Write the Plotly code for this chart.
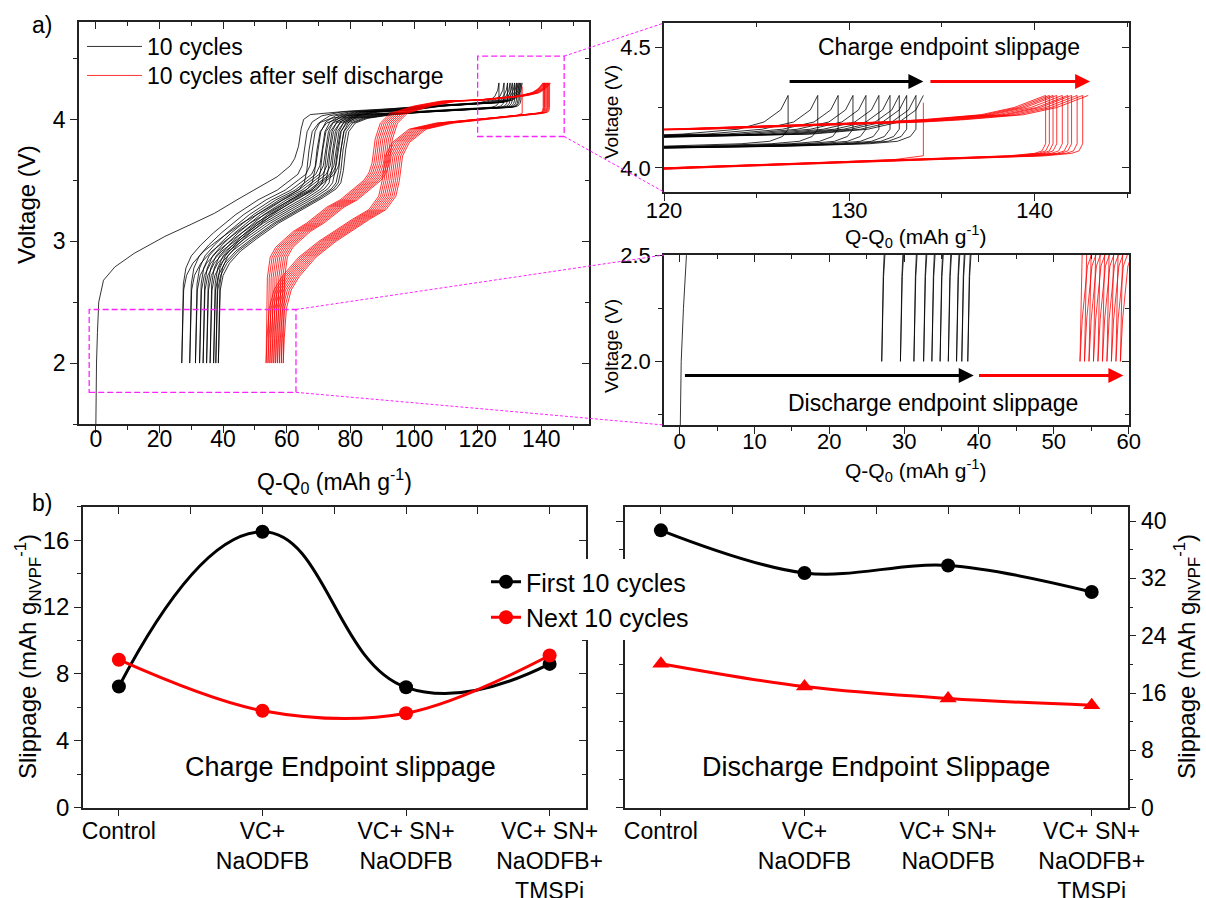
import plotly.graph_objects as go

W, H = 1206, 898
FONT = "Liberation Sans, Arial, sans-serif"

# ================= data: panel a) voltage curves =================
# first charge of the fresh cell (Q-Q0 in mAh/g, V)
FIRST_CHARGE_Q = [0, 0.05, 0.2, 0.5, 0.9, 2.4, 6, 12, 21.7, 30, 37.3, 45, 51.7, 57, 61.1, 62.5,
                  63.7, 64.5, 65.3, 67.4, 80, 100, 115, 121, 124, 125.4, 126.3, 126.7]
FIRST_CHARGE_V = [1.5, 1.75, 2.0, 2.25, 2.5, 2.68, 2.79, 2.9, 3.04, 3.14, 3.23, 3.35, 3.45, 3.53, 3.62, 3.68,
                  3.78, 3.92, 4.0, 4.04, 4.07, 4.1, 4.12, 4.14, 4.16, 4.19, 4.24, 4.3]

# endpoints
BLACK_CHARGE_END = [126.7, 128.3, 129.4, 130.2, 130.9, 131.6, 132.2, 132.7, 133.1, 133.6, 134.0]
BLACK_DISCHARGE_END = [27.0, 29.5, 31.3, 32.6, 33.7, 34.8, 35.9, 37.0, 37.7, 38.5]
RED_CHARGE_END = [140.6, 140.8, 141.0, 141.2, 141.5, 141.8, 142.0, 142.3, 142.6, 142.9]
RED_DISCHARGE_END = [53.5, 54.1, 54.7, 55.3, 55.9, 56.5, 57.1, 57.7, 58.3, 58.9]
SELF_DISCHARGE_Q = [134.0, 134.0]
SELF_DISCHARGE_V = [4.05, 4.27]

# curve shapes: capacity offset from the start / end anchor, voltage
BC_LOW_DQ = [0, 0.2, 0.5, 1.3, 3, 6, 10, 17, 24, 30, 34, 36.5, 37.8, 38.6, 39.4, 41, 44, 50, 62]
BC_LOW_V = [2.0, 2.4, 2.65, 2.78, 2.88, 2.97, 3.07, 3.22, 3.34, 3.42, 3.5, 3.55, 3.62, 3.76, 3.9, 3.98, 4.03, 4.06, 4.08]
BC_HIGH_DQ = [-25, -12, -6, -3, -1.3, -0.4, 0]
BC_HIGH_V = [4.11, 4.13, 4.14, 4.16, 4.19, 4.24, 4.3]

BD_LOW_DQ = [0, 0.25, 0.6, 1.5, 3.5, 7, 12, 19, 27, 33, 37, 38.5, 39.3, 40, 41, 43, 47, 55]
BD_LOW_V = [2.0, 2.4, 2.6, 2.72, 2.82, 2.92, 3.02, 3.15, 3.27, 3.36, 3.43, 3.48, 3.58, 3.75, 3.9, 3.97, 4.01, 4.04]
BD_HIGH_DQ = [-30, -15, -6.7, -2.5, -1, -0.3, 0, 0]
BD_HIGH_V = [4.06, 4.08, 4.09, 4.1, 4.11, 4.13, 4.16, 4.3]

RC_LOW_DQ = [0, 0.2, 0.4, 1.3, 3, 5.5, 8.5, 12.8, 19.1, 23.3, 27, 30.7, 32.3, 33.3, 34.3, 35.9, 39, 46.4, 54.8]
RC_LOW_V = [2.0, 2.4, 2.7, 2.87, 2.95, 3.01, 3.08, 3.15, 3.28, 3.34, 3.42, 3.5, 3.56, 3.64, 3.84, 3.97, 4.05, 4.11, 4.15]
RC_HIGH_DQ = [-20.6, -8.9, -6.6, -3.5, -1.7, 0]
RC_HIGH_V = [4.16, 4.19, 4.2, 4.22, 4.25, 4.3]

RD_LOW_DQ = [0, 0.3, 1, 2.5, 5, 10.3, 16.6, 27.1, 32.3, 35.4, 36.5, 37.5, 39.6, 44.9, 53.3]
RD_LOW_V = [2.0, 2.2, 2.45, 2.6, 2.71, 2.87, 3.0, 3.18, 3.26, 3.37, 3.5, 3.7, 3.81, 3.92, 3.97]
RD_HIGH_DQ = [-20.6, -9, -2, -0.6, -0.2, 0, 0]
RD_HIGH_V = [4.0, 4.03, 4.05, 4.06, 4.07, 4.1, 4.3]
# first discharge after the self-discharge rest (starts from the relaxed voltage)
RD0_HIGH_DQ = [-14, -6, -1.5, 0]
RD0_HIGH_V = [4.0, 4.02, 4.035, 4.05]

# ================= data: panel b) slippage =================
CATEGORIES = ["Control", "VC+<br>NaODFB", "VC+ SN+<br>NaODFB", "VC+ SN+<br>NaODFB+<br>TMSPi"]
CHARGE_FIRST10 = [7.25, 16.5, 7.2, 8.6]
CHARGE_NEXT10 = [8.85, 5.8, 5.65, 9.1]
DISCHARGE_FIRST10 = [38.7, 32.75, 33.8, 30.1]
DISCHARGE_NEXT10 = [20.1, 16.9, 15.25, 14.3]

# ================= build curves =================
def curve(start, end, low_dq, low_v, high_dq, high_v):
    q = [start + d for d in low_dq] + [end + d for d in high_dq]
    v = list(low_v) + list(high_v)
    return q, v

black = [(FIRST_CHARGE_Q, FIRST_CHARGE_V)]
for s, e in zip(BLACK_DISCHARGE_END, BLACK_CHARGE_END[1:]):
    black.append(curve(s, e, BC_LOW_DQ, BC_LOW_V, BC_HIGH_DQ, BC_HIGH_V))
for c, d in zip(BLACK_CHARGE_END[:-1], BLACK_DISCHARGE_END):
    black.append(curve(d, c, BD_LOW_DQ, BD_LOW_V, BD_HIGH_DQ, BD_HIGH_V))

red = []
red_dis_start = [SELF_DISCHARGE_Q[0]] + RED_CHARGE_END[:-1]
for i, (c, d) in enumerate(zip(red_dis_start, RED_DISCHARGE_END)):
    if i == 0:
        q, v = curve(d, c, RD_LOW_DQ, RD_LOW_V, RD0_HIGH_DQ, RD0_HIGH_V)
        red.append((q + SELF_DISCHARGE_Q, v + SELF_DISCHARGE_V))
    else:
        red.append(curve(d, c, RD_LOW_DQ, RD_LOW_V, RD_HIGH_DQ, RD_HIGH_V))
for s, e in zip(RED_DISCHARGE_END, RED_CHARGE_END):
    red.append(curve(s, e, RC_LOW_DQ, RC_LOW_V, RC_HIGH_DQ, RC_HIGH_V))


def merge(segs):
    xs, ys = [], []
    for q, v in segs:
        xs += list(q) + [None]
        ys += list(v) + [None]
    return xs, ys

BX, BY = merge(black)
RX, RY = merge(red)

# ================= panels (pixel boxes) =================
PANELS = {
    1: dict(px=(79, 589), py=(22, 424), xr=[-5.3, 155], yr=[1.5, 4.8], xd=20, xm=10, yd=1, ym=0.5,
            xfs=23, yfs=23, yfmt="", xstand=-13),
    2: dict(px=(664, 1129), py=(23, 192), xr=[120, 145.1], yr=[3.9, 4.6], xd=10, xm=5, yd=0.5, ym=0.25,
            xfs=22, yfs=22, yfmt=".1f", xstand=-9),
    3: dict(px=(664, 1129), py=(255, 425), xr=[-2.1, 60.05], yr=[1.7, 2.502], xd=10, xm=5, yd=0.5, ym=0.25,
            xfs=22, yfs=22, yfmt=".1f", xstand=-11),
    4: dict(px=(83, 585.5), py=(506.7, 807.7), xr=[-0.25, 3.25], yr=[0, 18], xd=None, xm=None, yd=4, ym=2,
            xfs=23, yfs=24, yfmt="", xstand=-5),
    5: dict(px=(625, 1127.6), py=(506.7, 807.7), xr=[-0.25, 3.25], yr=[0, 42], xd=None, xm=None, yd=8, ym=4,
            xfs=23, yfs=23, yfmt="", xstand=-5),
}

def xdom(p):
    return [PANELS[p]["px"][0] / W, PANELS[p]["px"][1] / W]

def ydom(p):
    return [1 - PANELS[p]["py"][1] / H, 1 - PANELS[p]["py"][0] / H]

def xname(i):
    return "xaxis" if i == 1 else f"xaxis{i}"

def yname(i):
    return "yaxis" if i == 1 else f"yaxis{i}"

def xref(i):
    return "x" if i == 1 else f"x{i}"

def yref(i):
    return "y" if i == 1 else f"y{i}"

LINEC = "#222"
layout_axes = {}
X_IDX = list(range(len(CATEGORIES)))
for i, P in PANELS.items():
    cat = P["xd"] is None
    xa = dict(domain=xdom(i), anchor=yref(i), range=P["xr"], showline=True, linecolor=LINEC, linewidth=1.5,
              mirror=True, showgrid=False, zeroline=False, ticks="outside", ticklen=7, tickwidth=1.3,
              tickcolor=LINEC, tickfont=dict(size=P["xfs"], color="black", family=FONT), automargin=False,
              ticklabelstandoff=P["xstand"])
    if cat:
        xa.update(tickmode="array", tickvals=X_IDX, ticktext=CATEGORIES)
    else:
        xa.update(tick0=0, dtick=P["xd"],
                  minor=dict(dtick=P["xm"], tick0=0, ticks="outside", ticklen=4, tickwidth=1.3, tickcolor=LINEC))
    ya = dict(domain=ydom(i), anchor=xref(i), range=P["yr"], showline=True, linecolor=LINEC, linewidth=1.5,
              mirror=True, showgrid=False, zeroline=False, ticks="outside", ticklen=7, tickwidth=1.3,
              tickcolor=LINEC, tickfont=dict(size=P["yfs"], color="black", family=FONT), automargin=False,
              tick0=0, dtick=P["yd"], tickformat=P["yfmt"],
              minor=dict(dtick=P["ym"], tick0=0, ticks="outside", ticklen=4, tickwidth=1.3, tickcolor=LINEC))
    if i == 5:
        ya.update(side="right", mirror="ticks")
    layout_axes[xname(i)] = xa
    layout_axes[yname(i)] = ya
    # top mirror ticks (inside)
    xo = dict(overlaying=xref(i), anchor=yref(i), side="top", range=P["xr"], showticklabels=False,
              showline=False, showgrid=False, zeroline=False, ticks="inside", ticklen=7, tickwidth=1.3,
              tickcolor=LINEC, automargin=False)
    if cat:
        xo.update(tickmode="array", tickvals=X_IDX,
                  minor=dict(tickvals=[k + 0.5 for k in X_IDX[:-1]], ticks="inside", ticklen=7,
                             tickwidth=1.3, tickcolor=LINEC))
    else:
        xo.update(tick0=0, dtick=P["xd"],
                  minor=dict(dtick=P["xm"], tick0=0, ticks="inside", ticklen=4, tickwidth=1.3, tickcolor=LINEC))
    layout_axes[xname(5 + i)] = xo
    if i != 5:
        yo = dict(overlaying=yref(i), anchor=xref(i), side="right", range=P["yr"], showticklabels=False,
                  showline=False, showgrid=False, zeroline=False, ticks="inside", ticklen=7, tickwidth=1.3,
                  tickcolor=LINEC, tick0=0, dtick=P["yd"], automargin=False,
                  minor=dict(dtick=P["ym"], tick0=0, ticks="inside", ticklen=4, tickwidth=1.3, tickcolor=LINEC))
        layout_axes[yname(5 + i)] = yo

fig = go.Figure()

# ---- voltage curves in the main panel and both insets ----
for i in (1, 2, 3):
    fig.add_trace(go.Scatter(x=BX, y=BY, mode="lines", line=dict(color="black", width=0.8),
                             name="10 cycles", showlegend=(i == 1), legend="legend",
                             xaxis=xref(i), yaxis=yref(i), hoverinfo="skip", connectgaps=False))
for i in (1, 2, 3):
    fig.add_trace(go.Scatter(x=RX, y=RY, mode="lines", line=dict(color="red", width=0.8),
                             name="10 cycles after self discharge", showlegend=(i == 1), legend="legend3",
                             xaxis=xref(i), yaxis=yref(i), hoverinfo="skip", connectgaps=False))

# ---- slippage panels ----
fig.add_trace(go.Scatter(x=X_IDX, y=CHARGE_FIRST10, mode="lines+markers", name="First 10 cycles",
                         line=dict(color="black", width=3, shape="spline", smoothing=1.3),
                         marker=dict(symbol="circle", size=14, color="black"),
                         legend="legend2", xaxis="x4", yaxis="y4"))
fig.add_trace(go.Scatter(x=X_IDX, y=CHARGE_NEXT10, mode="lines+markers", name="Next 10 cycles",
                         line=dict(color="red", width=3, shape="spline", smoothing=1.0),
                         marker=dict(symbol="circle", size=14, color="red"),
                         legend="legend2", xaxis="x4", yaxis="y4"))
fig.add_trace(go.Scatter(x=X_IDX, y=DISCHARGE_FIRST10, mode="lines+markers", showlegend=False,
                         line=dict(color="black", width=3, shape="spline", smoothing=1.0),
                         marker=dict(symbol="circle", size=14, color="black"),
                         xaxis="x5", yaxis="y5"))
fig.add_trace(go.Scatter(x=X_IDX, y=DISCHARGE_NEXT10, mode="lines+markers", showlegend=False,
                         line=dict(color="red", width=3, shape="spline", smoothing=1.0),
                         marker=dict(symbol="triangle-up", size=15, color="red"),
                         xaxis="x5", yaxis="y5"))

# dummy traces so the mirror-tick overlay axes are drawn
for i in PANELS:
    fig.add_trace(go.Scatter(x=[None], y=[None], xaxis=xref(5 + i), yaxis=yref(i), showlegend=False,
                             hoverinfo="skip"))
    if i != 5:
        fig.add_trace(go.Scatter(x=[None], y=[None], xaxis=xref(i), yaxis=yref(5 + i), showlegend=False,
                                 hoverinfo="skip"))

# ---- shapes: zoom boxes and connectors ----
MAG = "#ff22ff"
ZOOM_BOX_CHARGE = dict(x0=120, x1=147.2, y0=3.86, y1=4.52)
ZOOM_BOX_DISCH = dict(x0=-2.1, x1=62.9, y0=1.76, y1=2.44)


def to_px(p, xv):
    d = xdom(p); r = PANELS[p]["xr"]
    return d[0] + (xv - r[0]) / (r[1] - r[0]) * (d[1] - d[0])


def to_py(p, yv):
    d = ydom(p); r = PANELS[p]["yr"]
    return d[0] + (yv - r[0]) / (r[1] - r[0]) * (d[1] - d[0])

shapes = []
for box in (ZOOM_BOX_CHARGE, ZOOM_BOX_DISCH):
    shapes.append(dict(type="rect", xref="x", yref="y", line=dict(color=MAG, width=1.3, dash="6px,3px"), **box))
for box, p in ((ZOOM_BOX_CHARGE, 2), (ZOOM_BOX_DISCH, 3)):
    xr_ = to_px(1, box["x1"])
    shapes.append(dict(type="line", xref="paper", yref="paper", x0=xr_, y0=to_py(1, box["y1"]),
                       x1=xdom(p)[0], y1=ydom(p)[1], line=dict(color=MAG, width=1, dash="3px,2px")))
    shapes.append(dict(type="line", xref="paper", yref="paper", x0=xr_, y0=to_py(1, box["y0"]),
                       x1=xdom(p)[0], y1=ydom(p)[0], line=dict(color=MAG, width=1, dash="3px,2px")))


def pxp(x):
    return x / W


def pyp(y):
    return 1 - y / H


def txt(x, y, s, size, angle=0, xanchor="center"):
    return dict(x=pxp(x), y=pyp(y), xref="paper", yref="paper", text=s, showarrow=False, textangle=angle,
                font=dict(size=size, color="black", family=FONT), xanchor=xanchor, yanchor="middle")

QTITLE = "Q-Q<sub>0</sub> (mAh g<sup>-1</sup>)"
STITLE = "Slippage (mAh g<sub>NVPF</sub><sup>-1</sup>)"
annotations = [
    txt(42, 25, "a)", 23), txt(42, 503, "b)", 23),
    txt(27, 205, "Voltage (V)", 24, -90),
    txt(334, 481, QTITLE, 23),
    txt(611, 112, "Voltage (V)", 19, -90),
    txt(915, 237, QTITLE, 21),
    txt(611, 346, "Voltage (V)", 19, -90),
    txt(915, 470, QTITLE, 21),
    txt(28, 657, STITLE, 24, -90),
    txt(1187, 657, STITLE, 24, -90),
    txt(949, 47, "Charge endpoint slippage", 23),
    txt(933, 403, "Discharge endpoint slippage", 23),
    txt(340, 767, "Charge Endpoint slippage", 27),
    txt(876, 767, "Discharge Endpoint Slippage", 27),
]

# slippage arrows in the insets
CHARGE_ARROWS = [(126.7, 134.0, "black"), (134.3, 143.0, "red")]
DISCH_ARROWS = [(0.5, 39.3, "black"), (39.8, 59.3, "red")]
for a0, a1, col in CHARGE_ARROWS:
    annotations.append(dict(x=a1, y=4.358, ax=a0, ay=4.358, xref="x2", yref="y2", axref="x2", ayref="y2",
                            text="", showarrow=True, arrowhead=2, arrowsize=1, arrowwidth=3, arrowcolor=col))
for a0, a1, col in DISCH_ARROWS:
    annotations.append(dict(x=a1, y=1.933, ax=a0, ay=1.933, xref="x3", yref="y3", axref="x3", ayref="y3",
                            text="", showarrow=True, arrowhead=2, arrowsize=1, arrowwidth=3, arrowcolor=col))

LEG = dict(xanchor="left", yanchor="top", bgcolor="rgba(0,0,0,0)", tracegroupgap=0)
fig.update_layout(
    width=W, height=H, margin=dict(l=0, r=0, t=0, b=0),
    paper_bgcolor="white", plot_bgcolor="white",
    font=dict(family=FONT, color="black"),
    shapes=shapes, annotations=annotations,
    legend=dict(x=pxp(82), y=pyp(25), font=dict(size=23, family=FONT, color="black"), itemwidth=55, **LEG),
    legend3=dict(x=pxp(82), y=pyp(54), font=dict(size=23, family=FONT, color="black"), itemwidth=55, **LEG),
    legend2=dict(x=pxp(486), y=pyp(559), xanchor="left", yanchor="top", bgcolor="white",
                 font=dict(size=25, family=FONT, color="black"), tracegroupgap=0),
    **layout_axes,
)

fig.write_html("out.html", config={"displayModeBar": False},
               post_script="document.body.style.margin='0px';")
